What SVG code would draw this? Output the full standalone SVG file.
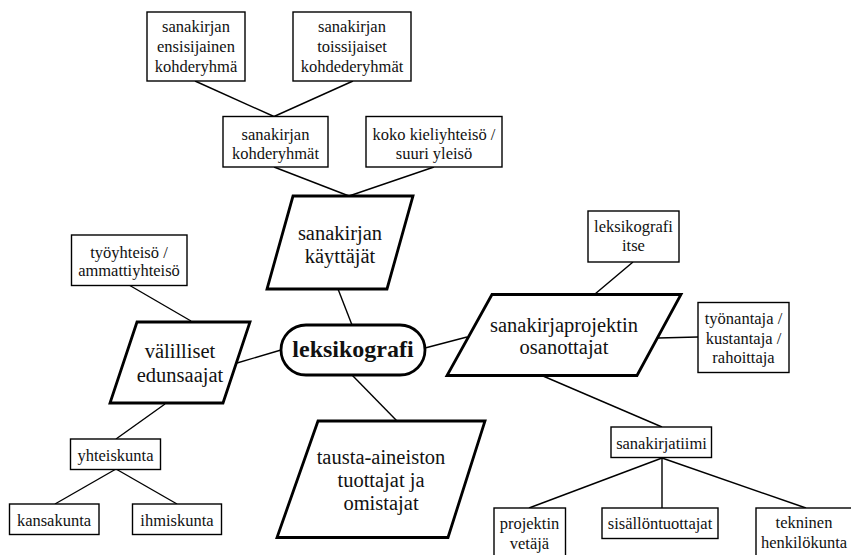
<svg xmlns="http://www.w3.org/2000/svg" width="851" height="555" viewBox="0 0 851 555">
<style>
.box{fill:#fff;stroke:#000;stroke-width:1.4}
.para{fill:#fff;stroke:#000;stroke-width:2.8;stroke-linejoin:miter}
.hub{fill:#fff;stroke:#000;stroke-width:2.8}
.c{stroke:#000;stroke-width:1.4;fill:none}
text{fill:#111;text-anchor:middle}
.s{font-size:16.5px}
.m{font-size:20.5px}
.h{font-size:24px;font-weight:bold}
</style>
<rect width="851" height="555" fill="#fff"/>
<g id="connectors">
<line class="c" x1="195" y1="81" x2="274" y2="116.5"/>
<line class="c" x1="353" y1="81" x2="274" y2="116.5"/>
<line class="c" x1="274" y1="167" x2="349" y2="196"/>
<line class="c" x1="434" y1="167" x2="349" y2="196"/>
<line class="c" x1="338" y1="289" x2="352" y2="325"/>
<line class="c" x1="129" y1="285" x2="191" y2="321"/>
<line class="c" x1="237" y1="363" x2="281" y2="350"/>
<line class="c" x1="165" y1="404" x2="116" y2="439"/>
<line class="c" x1="116" y1="469" x2="55" y2="504"/>
<line class="c" x1="116" y1="469" x2="177" y2="504"/>
<line class="c" x1="352" y1="375" x2="397" y2="421"/>
<line class="c" x1="425" y1="348" x2="467" y2="337"/>
<line class="c" x1="633" y1="262" x2="595" y2="294"/>
<line class="c" x1="658" y1="338" x2="698" y2="337"/>
<line class="c" x1="543" y1="376" x2="662" y2="427"/>
<line class="c" x1="662" y1="458" x2="529" y2="508"/>
<line class="c" x1="662" y1="458" x2="662" y2="508"/>
<line class="c" x1="662" y1="458" x2="806" y2="508"/>
</g>
<g font-family="'Liberation Serif', 'Times New Roman', 'DejaVu Serif', serif">
<g id="n-ensisijainen">
<rect class="box" x="147" y="12" width="98" height="69"/>
<text class="s" x="196" y="32">sanakirjan</text>
<text class="s" x="196" y="52">ensisijainen</text>
<text class="s" x="196" y="71.5">kohderyhmä</text>
</g>
<g id="n-toissijaiset">
<rect class="box" x="293" y="12" width="118" height="69"/>
<text class="s" x="352" y="32">sanakirjan</text>
<text class="s" x="352" y="52">toissijaiset</text>
<text class="s" x="352" y="71.5">kohdederyhmät</text>
</g>
<g id="n-kohderyhmat">
<rect class="box" x="223" y="116.5" width="105" height="50.5"/>
<text class="s" x="275.5" y="140">sanakirjan</text>
<text class="s" x="275.5" y="159">kohderyhmät</text>
</g>
<g id="n-koko">
<rect class="box" x="366" y="116.5" width="136" height="50.5"/>
<text class="s" x="434" y="140">koko kieliyhteisö /</text>
<text class="s" x="434" y="159">suuri yleisö</text>
</g>
<g id="n-kayttajat">
<polygon class="para" points="293,196 413,196 387,289 267,289"/>
<text class="m" x="340" y="239.5">sanakirjan</text>
<text class="m" x="340" y="262.5">käyttäjät</text>
</g>
<g id="n-tyoyhteiso">
<rect class="box" x="71.5" y="235" width="115.5" height="50.5"/>
<text class="s" x="129" y="257.5">työyhteisö /</text>
<text class="s" x="129" y="276">ammattiyhteisö</text>
</g>
<g id="n-valilliset">
<polygon class="para" points="137,322 250,322 223,403 110,403"/>
<text class="m" x="180" y="357.5">välilliset</text>
<text class="m" x="180" y="381.5">edunsaajat</text>
</g>
<g id="n-leksikografi">
<rect class="hub" x="281" y="325" width="144" height="50" rx="25" ry="25"/>
<text class="h" x="353" y="356.5">leksikografi</text>
</g>
<g id="n-yhteiskunta">
<rect class="box" x="70.5" y="439" width="90" height="30.5"/>
<text class="s" x="115.5" y="460.5">yhteiskunta</text>
</g>
<g id="n-kansakunta">
<rect class="box" x="9.5" y="504" width="89.5" height="30.5"/>
<text class="s" x="54" y="526">kansakunta</text>
</g>
<g id="n-ihmiskunta">
<rect class="box" x="132.5" y="504" width="89" height="30.5"/>
<text class="s" x="177" y="526">ihmiskunta</text>
</g>
<g id="n-tausta">
<polygon class="para" points="318,421 485,421 448,537.5 277,537.5"/>
<text class="m" x="381" y="463.5">tausta-aineiston</text>
<text class="m" x="381" y="486.5">tuottajat ja</text>
<text class="m" x="381" y="509.5">omistajat</text>
</g>
<g id="n-itse">
<rect class="box" x="588" y="211" width="91" height="51"/>
<text class="s" x="633.5" y="231.5">leksikografi</text>
<text class="s" x="633.5" y="250.5">itse</text>
</g>
<g id="n-osanottajat">
<polygon class="para" points="492,294.5 681,294.5 637,375.5 447,375.5"/>
<text class="m" x="564" y="331.5">sanakirjaprojektin</text>
<text class="m" x="564" y="353.5">osanottajat</text>
</g>
<g id="n-tyonantaja">
<rect class="box" x="698" y="302.5" width="91" height="70"/>
<text class="s" x="743.5" y="324">työnantaja /</text>
<text class="s" x="743.5" y="343.5">kustantaja /</text>
<text class="s" x="743.5" y="362.5">rahoittaja</text>
</g>
<g id="n-sanakirjatiimi">
<rect class="box" x="611" y="427" width="100.5" height="30.5"/>
<text class="s" x="661.5" y="448.5">sanakirjatiimi</text>
</g>
<g id="n-projektin">
<rect class="box" x="494" y="508" width="71.5" height="52"/>
<text class="s" x="529.5" y="528.5">projektin</text>
<text class="s" x="529.5" y="548.5">vetäjä</text>
</g>
<g id="n-sisallontuottajat">
<rect class="box" x="602" y="508" width="116" height="30.5"/>
<text class="s" x="660" y="528.5">sisällöntuottajat</text>
</g>
<g id="n-tekninen">
<rect class="box" x="756" y="508" width="100" height="52"/>
<text class="s" x="804" y="527.5">tekninen</text>
<text class="s" x="804" y="547.5">henkilökunta</text>
</g>
</g>
</svg>
